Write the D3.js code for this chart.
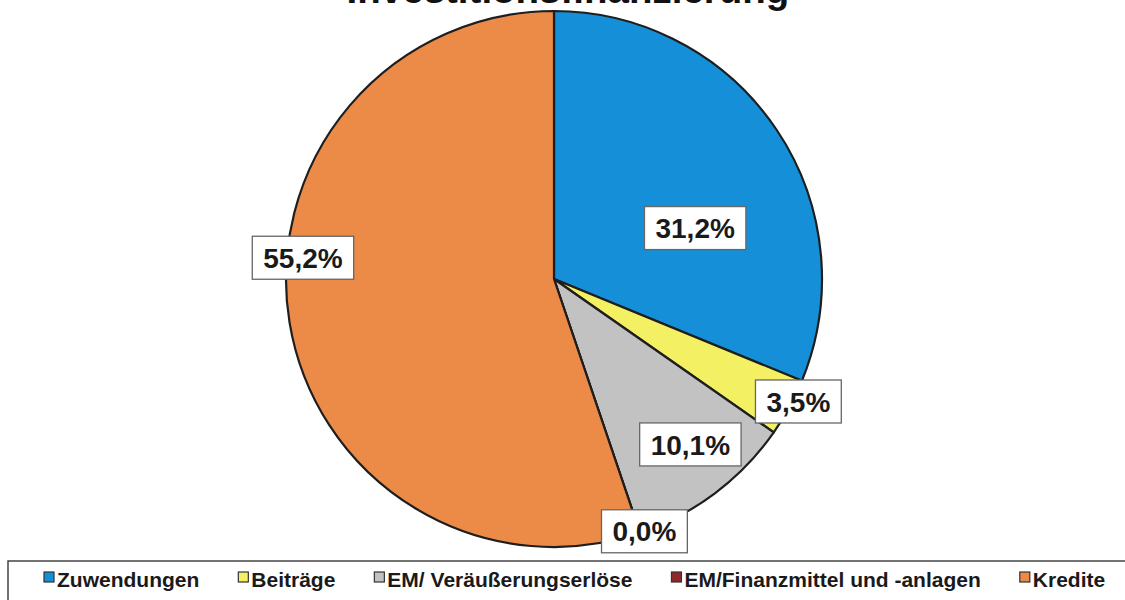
<!DOCTYPE html>
<html>
<head>
<meta charset="utf-8">
<script src="https://cdn.jsdelivr.net/npm/d3@7"></script>
<style>
  body { margin: 0; background: #fff; }
  svg { display: block; font-family: "Liberation Sans", Arial, sans-serif; }
</style>
</head>
<body>
<svg id="chart" width="1125" height="600"></svg>
<script>
// Chart data
const categories = ["Zuwendungen", "Beiträge", "EM/ Veräußerungserlöse", "EM/Finanzmittel und -anlagen", "Kredite"];
const shares = [31.2, 3.5, 10.1, 0.0, 55.2];
const colors = ["#1590d8", "#f4f064", "#c2c2c2", "#8e2a2e", "#ec8a48"];
const title = "Investitionsfinanzierung";

// Label placement (radius as share of pie radius, angle nudge in degrees)
const labelRadius = [0.56, 1.02, 0.8, 1.0, 0.94];
const labelNudge = [14, -2, -2.6, -1, 14.2];

const width = 1125, height = 600;
const cx = 554, cy = 279, radius = 268;

const svg = d3.select("#chart");

// Title (mostly cut off at the top of the picture)
svg.append("text")
  .attr("x", 568)
  .attr("y", 3)
  .attr("text-anchor", "middle")
  .attr("font-size", "38.5px")
  .attr("font-weight", "bold")
  .attr("fill", "#111")
  .text(title);

// Pie
const data = categories.map((name, i) => ({ name, value: shares[i], color: colors[i] }));
const pie = d3.pie().value(d => d.value).sort(null);
const arcs = pie(data);
const arc = d3.arc().innerRadius(0).outerRadius(radius);

const g = svg.append("g").attr("transform", `translate(${cx},${cy})`);

g.selectAll("path")
  .data(arcs)
  .enter()
  .append("path")
  .attr("d", arc)
  .attr("fill", d => d.data.color)
  .attr("stroke", "#1e1e1e")
  .attr("stroke-width", 2.2)
  .attr("stroke-linejoin", "round");

// Data labels in white boxes
const fmt = v => v.toFixed(1).replace(".", ",") + "%";

arcs.forEach((d, i) => {
  const mid = (d.startAngle + d.endAngle) / 2 + labelNudge[i] * Math.PI / 180;
  const r = radius * labelRadius[i];
  const x = Math.sin(mid) * r;
  const y = -Math.cos(mid) * r;

  const lg = g.append("g").attr("transform", `translate(${x},${y})`);
  const rect = lg.append("rect").attr("fill", "#fff").attr("stroke", "#666").attr("stroke-width", 1.3);
  const t = lg.append("text")
    .attr("text-anchor", "middle")
    .attr("dy", "0.36em")
    .attr("font-size", "28px")
    .attr("font-weight", "bold")
    .attr("fill", "#1a1a1a")
    .text(fmt(d.data.value));
  const w = t.node().getComputedTextLength() + 22;
  rect.attr("x", -w / 2).attr("y", -21.5).attr("width", w).attr("height", 43);
});

// Legend box
svg.append("rect")
  .attr("x", 8)
  .attr("y", 561)
  .attr("width", 1130)
  .attr("height", 60)
  .attr("fill", "#fff")
  .attr("stroke", "#444")
  .attr("stroke-width", 1.5);

const legend = svg.append("g");
const items = legend.selectAll("g")
  .data(data)
  .enter()
  .append("g");

items.append("rect")
  .attr("width", 10)
  .attr("height", 10)
  .attr("y", 572)
  .attr("fill", d => d.color)
  .attr("stroke", "#333")
  .attr("stroke-width", 1.2);

items.append("text")
  .attr("x", 13)
  .attr("y", 587)
  .attr("font-size", "21px")
  .attr("font-weight", "bold")
  .attr("fill", "#1a1a1a")
  .text(d => d.name);

// Lay the legend items out in a row
let lx = 44;
items.each(function () {
  const node = d3.select(this);
  node.attr("transform", `translate(${lx},0)`);
  lx += this.getBBox().width + 39;
});
</script>
</body>
</html>
